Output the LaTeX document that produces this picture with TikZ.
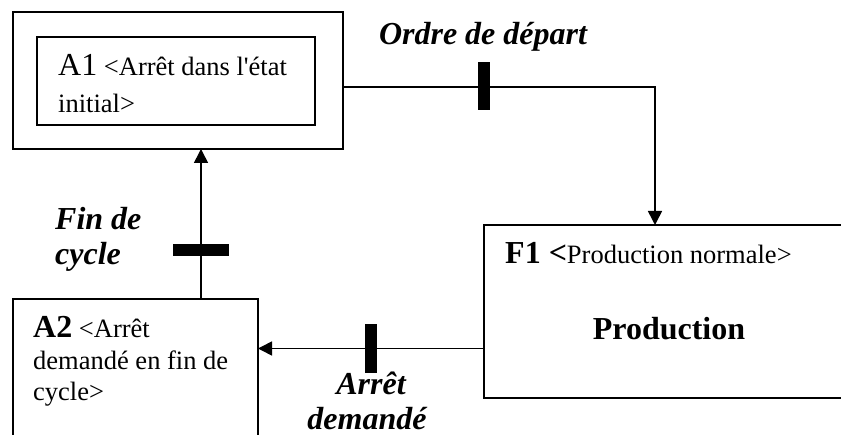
\documentclass[tikz,border=0pt]{standalone}
\usepackage{fontspec}
\setmainfont{Liberation Serif}
\newfontfamily\plainserif{Liberation Serif}
\usetikzlibrary{arrows.meta}
\begin{document}
\begin{tikzpicture}[x=1pt,y=-1pt,
  box/.style={draw, line width=1.6pt, inner sep=0pt, outer sep=0pt, anchor=north west},
  conn/.style={line width=1.6pt},
  arr/.style={conn, -{Triangle[width=14pt,length=14pt]}},
  bar/.style={fill=black, draw=none, inner sep=0pt, outer sep=0pt},
  txt/.style={inner sep=0pt, anchor=base west, font=\fontsize{26.5}{32}\selectfont},
  lbl/.style={inner sep=0pt, anchor=base, font=\fontsize{32}{38}\selectfont\bfseries\itshape},
]
\useasboundingbox (0,0) rectangle (841,435);
% boxes
\node[box, minimum width=330pt, minimum height=137pt] (A1o) at (13,12) {};
\node[box, minimum width=278pt, minimum height=88pt] (A1i) at (37,37) {};
\node[box, minimum width=361pt, minimum height=173pt] (F1) at (484,225) {};
\node[box, minimum width=245pt, minimum height=146pt] (A2) at (13,299) {};
% transitions
\node[bar, minimum width=12pt, minimum height=48pt] (T1) at (484,86) {};
\node[bar, minimum width=56pt, minimum height=12pt] (T2) at (201,250) {};
\node[bar, minimum width=12pt, minimum height=49pt] (T3) at (371,348.5) {};
\coordinate (K1) at (655,87);
% connectors
\draw[arr] (A1o.east |- K1) -- (K1) -- (K1 |- F1.north);
\draw[arr] (F1.west |- T3) -- (A2.east |- T3);
\draw[arr] (A2.north -| T2) -- (A1o.south -| T2);
% texts
\node[txt] (a1t) at (58,76) {{\fontsize{32}{38}\selectfont A1} <Arrêt dans l{\plainserif '}état};
\node[txt] (a1t2) at (58,113) {initial>};
\node[lbl] (ordre) at (483,45) {Ordre de départ};
\node[txt] (f1t) at (505,264) {{\fontsize{32}{38}\selectfont\bfseries F1 <}Production normale>};
\node[inner sep=0pt, anchor=base, font=\fontsize{32}{38}\selectfont\bfseries] (prod) at (669,340) {Production};
\node[lbl, anchor=base west] (fin1) at (55,230) {Fin de};
\node[lbl, anchor=base west] (fin2) at (55,265) {cycle};
\node[txt] (a2t1) at (33,338) {{\fontsize{32}{38}\selectfont\bfseries A2} <Arrêt};
\node[txt] (a2t2) at (33,370) {demandé en fin de};
\node[txt] (a2t3) at (33,401) {cycle>};
\node[lbl] (arr1) at (371,395) {Arrêt};
\node[lbl] (arr2) at (367,430) {demandé};
\end{tikzpicture}
\end{document}
